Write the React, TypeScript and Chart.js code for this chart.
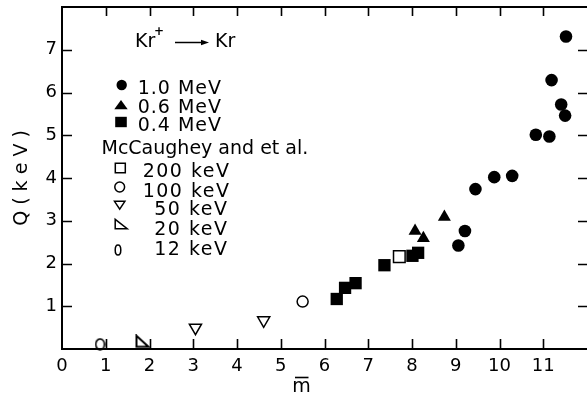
import React, { useEffect, useRef } from 'react';
import { Chart, registerables } from 'chart.js';

Chart.register(...registerables);

// Kr+ -> Kr : energy loss Q (keV) against mean charge m, per beam energy
const SERIES_LABELS = ['1.0 MeV', '0.6 MeV', '0.4 MeV', '200 keV', '100 keV', '50 keV', '20 keV', '12 keV'];

const MEV_10_M = [11.52, 11.19, 11.41, 11.5, 10.83, 11.14, 10.29, 9.88, 9.45, 9.21, 9.06];
const MEV_10_Q = [7.31, 6.29, 5.72, 5.46, 5.01, 4.97, 4.05, 4.02, 3.74, 2.76, 2.42];
const MEV_06_M = [8.74, 8.07, 8.26];
const MEV_06_Q = [3.09, 2.76, 2.59];
const MEV_04_M = [6.28, 6.47, 6.71, 7.37, 8.01, 8.14];
const MEV_04_Q = [1.17, 1.43, 1.54, 1.96, 2.18, 2.25];
const KEV_200_M = [7.71];
const KEV_200_Q = [2.16];
const KEV_100_M = [5.5];
const KEV_100_Q = [1.11];
const KEV_50_M = [3.05, 4.61];
const KEV_50_Q = [0.5, 0.67];
const KEV_20_M = [1.84];
const KEV_20_Q = [0.18];
const KEV_12_M = [0.87];
const KEV_12_Q = [0.11];

const X_TICK_LABELS = ['0', '1', '2', '3', '4', '5', '6', '7', '8', '9', '10', '11'];
const Y_TICK_LABELS = ['1', '2', '3', '4', '5', '6', '7'];

const FONT = 'DejaVu Sans';
const TICK_LEN = 10;

const pts = (m: number[], q: number[]) => m.map((x, i) => ({ x, y: q[i] }));

function rightTriangleImage(w: number, h: number, lw: number) {
  const c = document.createElement('canvas');
  c.width = w;
  c.height = h;
  const g = c.getContext('2d')!;
  g.strokeStyle = '#000';
  g.lineWidth = lw;
  g.lineJoin = 'miter';
  g.beginPath();
  g.moveTo(lw / 2 + 0.5, lw / 2 + 0.5);
  g.lineTo(lw / 2 + 0.5, h - lw / 2 - 0.5);
  g.lineTo(w - lw / 2 - 0.5, h - lw / 2 - 0.5);
  g.closePath();
  g.stroke();
  return c;
}

function ellipseImage(w: number, h: number, lw: number) {
  const c = document.createElement('canvas');
  c.width = w;
  c.height = h;
  const g = c.getContext('2d')!;
  g.strokeStyle = '#000';
  g.lineWidth = lw;
  g.beginPath();
  g.ellipse(w / 2, h / 2, w / 2 - lw / 2 - 0.3, h / 2 - lw / 2 - 0.3, 0, 0, Math.PI * 2);
  g.stroke();
  return c;
}

type Shape = 'dot' | 'tri' | 'sq' | 'sqOpen' | 'dotOpen' | 'triDown' | 'rightTri' | 'ellipse';
const LEGEND_SHAPES: Shape[] = ['dot', 'tri', 'sq', 'sqOpen', 'dotOpen', 'triDown', 'rightTri', 'ellipse'];
const LEGEND_MARK_X = [121.7, 121, 121, 120.3, 119.7, 119.7, 121, 118];
const LEGEND_MARK_Y = [85, 105, 122, 168, 187, 205, 224, 250];
const LEGEND_TEXT_BASE = [94, 113, 131, 177, 196.5, 215, 235, 255];
const LEGEND_TEXT_RIGHT = [221, 221, 221, 229, 229, 227, 227, 227];

function drawLegendMark(ctx: CanvasRenderingContext2D, shape: Shape, x: number, y: number) {
  ctx.save();
  ctx.fillStyle = '#000';
  ctx.strokeStyle = '#000';
  ctx.lineWidth = 1.5;
  ctx.beginPath();
  switch (shape) {
    case 'dot':
      ctx.arc(x, y, 5.2, 0, Math.PI * 2);
      ctx.fill();
      break;
    case 'tri':
      ctx.moveTo(x, y - 5);
      ctx.lineTo(x + 6.7, y + 4.2);
      ctx.lineTo(x - 6.7, y + 4.2);
      ctx.closePath();
      ctx.fill();
      break;
    case 'sq':
      ctx.rect(x - 5.8, y - 5.2, 11.6, 10.4);
      ctx.fill();
      break;
    case 'sqOpen':
      ctx.rect(x - 5, y - 4.7, 10, 9.4);
      ctx.stroke();
      break;
    case 'dotOpen':
      ctx.arc(x, y, 4.9, 0, Math.PI * 2);
      ctx.stroke();
      break;
    case 'triDown':
      ctx.moveTo(x - 5.2, y - 3.7);
      ctx.lineTo(x + 5.2, y - 3.7);
      ctx.lineTo(x, y + 4.2);
      ctx.closePath();
      ctx.stroke();
      break;
    case 'rightTri':
      ctx.moveTo(x - 5.8, y - 4.7);
      ctx.lineTo(x - 5.8, y + 4.7);
      ctx.lineTo(x + 6.2, y + 4.7);
      ctx.closePath();
      ctx.stroke();
      break;
    case 'ellipse':
      ctx.ellipse(x, y, 2.8, 5, 0, 0, Math.PI * 2);
      ctx.stroke();
      break;
  }
  ctx.restore();
}

const decorPlugin = {
  id: 'decor',
  afterDatasetsDraw(chart: any) {
    const { ctx, chartArea: a, scales } = chart;
    const xs = scales.x;
    const ys = scales.y;
    ctx.save();
    // frame and inward tick marks
    ctx.strokeStyle = '#000';
    ctx.lineWidth = 2;
    ctx.beginPath();
    ctx.moveTo(a.left, a.top);
    ctx.lineTo(a.right, a.top);
    ctx.moveTo(a.left, a.top - 1);
    ctx.lineTo(a.left, a.bottom + 1);
    ctx.moveTo(a.left, a.bottom);
    ctx.lineTo(a.right, a.bottom);
    ctx.stroke();
    ctx.lineWidth = 1.6;
    ctx.beginPath();
    for (const t of xs.ticks) {
      if (t.value <= xs.min || t.value >= xs.max) continue;
      const px = Math.round(xs.getPixelForValue(t.value)) + 0.5;
      ctx.moveTo(px, a.bottom);
      ctx.lineTo(px, a.bottom - TICK_LEN);
      ctx.moveTo(px, a.top);
      ctx.lineTo(px, a.top + TICK_LEN - 1);
    }
    for (const t of ys.ticks) {
      if (t.value <= ys.min || t.value >= ys.max) continue;
      const py = Math.round(ys.getPixelForValue(t.value)) + 0.5;
      ctx.moveTo(a.left, py);
      ctx.lineTo(a.left + TICK_LEN, py);
      ctx.moveTo(a.right, py);
      ctx.lineTo(a.right - TICK_LEN + 1, py);
    }
    ctx.stroke();

    // reaction label
    ctx.fillStyle = '#000';
    ctx.textBaseline = 'alphabetic';
    ctx.textAlign = 'left';
    ctx.font = `19px "${FONT}"`;
    ctx.fillText('Kr', 135, 46.5);
    ctx.fillText('Kr', 215, 46.5);
    ctx.font = `bold 12px "${FONT}"`;
    ctx.textAlign = 'center';
    ctx.textBaseline = 'middle';
    ctx.fillText('+', 159, 31.5);
    ctx.lineWidth = 1.5;
    ctx.beginPath();
    ctx.moveTo(175, 42.5);
    ctx.lineTo(203, 42.5);
    ctx.stroke();
    ctx.beginPath();
    ctx.moveTo(209, 42.5);
    ctx.lineTo(201, 39.8);
    ctx.lineTo(201, 45.2);
    ctx.closePath();
    ctx.fill();

    // legend
    chart.data.datasets.forEach((ds: any, i: number) => {
      drawLegendMark(ctx, LEGEND_SHAPES[i], LEGEND_MARK_X[i], LEGEND_MARK_Y[i]);
      ctx.font = `19px "${FONT}"`;
      ctx.textAlign = 'right';
      ctx.textBaseline = 'alphabetic';
      (ctx as any).letterSpacing = i >= 3 ? '1.5px' : '1px';
      ctx.fillText(ds.label, LEGEND_TEXT_RIGHT[i] + (i >= 3 ? 1.5 : 1), LEGEND_TEXT_BASE[i]);
    });
    (ctx as any).letterSpacing = '0px';
    ctx.textAlign = 'left';
    ctx.font = `19px "${FONT}"`;
    ctx.fillText('McCaughey and et al.', 101.5, 153.5);

    // x-axis title: m with an overbar
    ctx.font = `19px "${FONT}"`;
    ctx.textAlign = 'center';
    ctx.fillText('m', 301.5, 392);
    ctx.lineWidth = 1.6;
    ctx.beginPath();
    ctx.moveTo(295, 377.5);
    ctx.lineTo(308.5, 377.5);
    ctx.stroke();
    ctx.restore();
  },
};

export default function App() {
  const ref = useRef<HTMLCanvasElement | null>(null);

  useEffect(() => {
    document.body.style.margin = '0';
    const canvas = ref.current;
    if (!canvas) return;

    const tickFont = { family: FONT, size: 18 };
    const common = { borderColor: '#000', showLine: false };

    const chart = new Chart(canvas, {
      type: 'scatter',
      data: {
        datasets: [
          { ...common, label: SERIES_LABELS[0], data: pts(MEV_10_M, MEV_10_Q), pointStyle: 'circle', pointRadius: 6.3, pointHoverRadius: 6.3, backgroundColor: '#000', pointBorderWidth: 0 },
          { ...common, label: SERIES_LABELS[1], data: pts(MEV_06_M, MEV_06_Q), pointStyle: 'triangle', pointRadius: 7.5, pointHoverRadius: 7.5, backgroundColor: '#000', pointBorderWidth: 0 },
          { ...common, label: SERIES_LABELS[2], data: pts(MEV_04_M, MEV_04_Q), pointStyle: 'rect', pointRadius: 8.7, pointHoverRadius: 8.7, backgroundColor: '#000', pointBorderWidth: 0 },
          { ...common, label: SERIES_LABELS[3], data: pts(KEV_200_M, KEV_200_Q), pointStyle: 'rect', pointRadius: 8.2, pointHoverRadius: 8.2, backgroundColor: '#fff', pointBorderWidth: 1.5 },
          { ...common, label: SERIES_LABELS[4], data: pts(KEV_100_M, KEV_100_Q), pointStyle: 'circle', pointRadius: 5.5, pointHoverRadius: 5.5, backgroundColor: '#fff', pointBorderWidth: 1.5 },
          { ...common, label: SERIES_LABELS[5], data: pts(KEV_50_M, KEV_50_Q), pointStyle: 'triangle', pointRotation: 180, pointRadius: 7, pointHoverRadius: 7, backgroundColor: '#fff', pointBorderWidth: 1.5 },
          { ...common, label: SERIES_LABELS[6], data: pts(KEV_20_M, KEV_20_Q), pointStyle: rightTriangleImage(15, 14, 2), backgroundColor: '#fff' },
          { ...common, label: SERIES_LABELS[7], data: pts(KEV_12_M, KEV_12_Q), pointStyle: ellipseImage(11, 13, 1.7), backgroundColor: '#fff' },
        ],
      },
      options: {
        responsive: false,
        animation: false,
        events: [],
        clip: false,
        layout: { autoPadding: false, padding: { top: 7, right: 0, bottom: 0, left: 0 } },
        plugins: { legend: { display: false }, tooltip: { enabled: false }, title: { display: false } },
        scales: {
          x: {
            type: 'linear',
            min: 0,
            max: 12,
            afterFit: (s: any) => {
              s.height = 46;
              s.paddingLeft = 0;
              s.paddingRight = 0;
            },
            grid: { display: false, drawTicks: false },
            border: { display: false },
            title: { display: false },
            ticks: {
              stepSize: 1,
              autoSkip: false,
              maxRotation: 0,
              padding: 7,
              color: '#000',
              font: tickFont,
              callback: (v: any) => X_TICK_LABELS[v] ?? '',
            },
          },
          y: {
            type: 'linear',
            min: 0,
            max: 8,
            afterFit: (s: any) => {
              s.width = 62;
              s.paddingTop = 0;
              s.paddingBottom = 0;
            },
            grid: { display: false, drawTicks: false },
            border: { display: false },
            title: {
              display: true,
              text: 'Q ( k e V )',
              color: '#000',
              font: { family: FONT, size: 19 },
              padding: { top: 11, bottom: 0 },
            },
            ticks: {
              stepSize: 1,
              autoSkip: false,
              padding: 5,
              color: '#000',
              font: tickFont,
              callback: (v: any) => (v >= 1 && v <= 7 ? Y_TICK_LABELS[v - 1] : ''),
            },
          },
        },
      } as any,
      plugins: [decorPlugin],
    });

    return () => chart.destroy();
  }, []);

  return (
    <div style={{ width: 587, height: 395, background: '#fff' }}>
      <canvas ref={ref} width={587} height={395} style={{ display: 'block' }} />
    </div>
  );
}
